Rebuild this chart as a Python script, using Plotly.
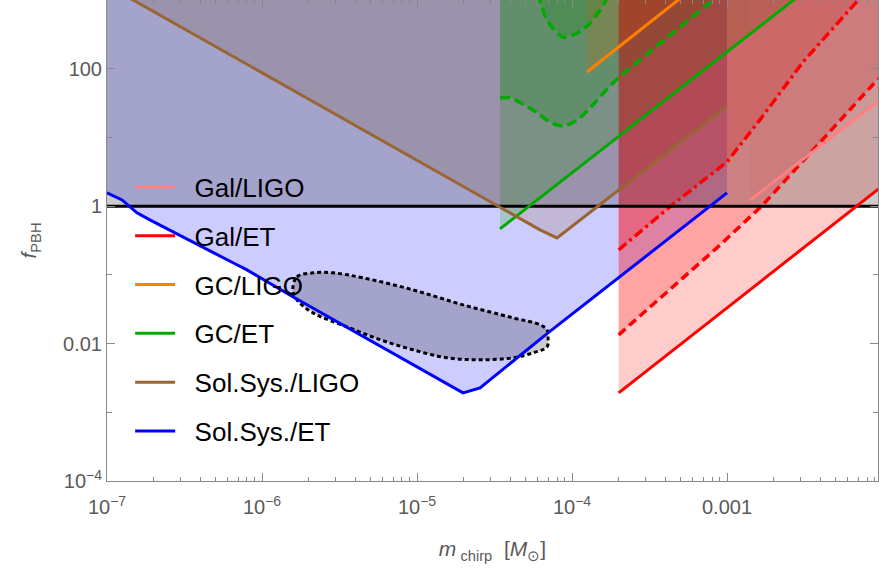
import plotly.graph_objects as go

# ---- bounds on f_PBH versus chirp mass (M_sun) ----
# Solar-system / ET
solet_m = [1.0e-7, 1.25e-7, 1.56e-7, 1.89e-7, 6.5e-7, 8.0e-7, 1.58e-6, 1.98e-5, 2.55e-5, 7.0e-5, 1.0e-3]
solet_f = [1.56, 1.23, 0.80, 0.63, 0.150, 0.118, 0.0479, 0.00192, 0.00227, 0.0143, 1.56]
# Solar-system / LIGO
solligo_m = [1.0e-7, 6.22e-5, 8.0e-5, 1.0e-3]
solligo_f = [1640, 0.452, 0.345, 28.7]
# Globular clusters / ET (solid, dashed, dashed upper)
gcet_m = [3.43e-5, 5.0e-3]
gcet_f = [0.467, 2970]
gcet2_m = [3.43e-5, 3.98e-5, 5.6e-5, 7.2e-5, 8.75e-5, 1.08e-4, 1.36e-4, 1.84e-4, 2.75e-4, 7.43e-4, 1.0e-3]
gcet2_f = [37.6, 37.6, 25.1, 16.8, 14.7, 18.0, 29.7, 62.1, 134, 845, 1470]
gcet3_m = [5.77e-5, 6.22e-5, 6.9e-5, 8.75e-5, 1.08e-4, 1.31e-4, 1.63e-4, 1.71e-4]
gcet3_f = [1175, 935, 512, 290, 331, 462, 935, 1175]
# Globular clusters / LIGO
gcligo_m = [1.25e-4, 6.3e-4]
gcligo_f = [89.7, 1600]
# Galactic / ET (solid, dashed, dot-dashed)
galet_m = [2.0e-4, 1.26e-2]
galet_f = [0.00192, 2.94]
galet2_m = [2.0e-4, 8.6e-4, 1.68e-3, 3.59e-3, 9.29e-3, 1.26e-2]
galet2_f = [0.0134, 0.247, 1.01, 6.58, 68.5, 117]
galet3_m = [2.0e-4, 4.42e-4, 1.0e-3, 1.63e-3, 3.09e-3, 7.21e-3, 1.0e-2]
galet3_f = [0.231, 1.04, 4.41, 18.0, 125, 1070, 2000]
# Galactic / LIGO
galligo_m = [1.41e-3, 1.26e-2]
galligo_f = [1.23, 55.7]
# closed contour
cont_m = [1.58e-6, 1.68e-6, 2.13e-6, 2.87e-6, 4.49e-6, 9.42e-6, 1.98e-5, 4.16e-5, 6.22e-5, 6.9e-5,
          7.0e-5, 6.9e-5, 5.6e-5, 4.16e-5, 2.55e-5, 1.56e-5, 9.42e-6, 5.77e-6, 3.53e-6, 2.13e-6,
          1.68e-6, 1.58e-6]
cont_f = [0.0605, 0.0935, 0.107, 0.107, 0.0904, 0.0605, 0.0366, 0.0237, 0.0188, 0.0158,
          0.0125, 0.00897, 0.00733, 0.00621, 0.00581, 0.00621, 0.00811, 0.0114, 0.0175, 0.028,
          0.0433, 0.0605]

x_ticks = [1e-7, 1e-6, 1e-5, 1e-4, 1e-3]
x_labels = ["10<sup>−7</sup>", "10<sup>−6</sup>", "10<sup>−5</sup>", "10<sup>−4</sup>", "0.001"]
y_ticks = [1e-4, 1e-2, 1, 100]
y_labels = ["10<sup>−4</sup>", "0.01", "1", "100"]

TOP = 1e5

BLUE = "#0000ff"
BROWN = "#996633"
GREEN = "#00aa00"
ORANGE = "#ff8000"
RED = "#ff0000"
PINK = "#ff8080"

fig = go.Figure()


def region_above(m, f, color):
    fig.add_trace(go.Scatter(
        x=list(m) + [m[-1], m[0]], y=list(f) + [TOP, TOP],
        mode="lines", line=dict(width=0), fill="toself", fillcolor=color,
        hoverinfo="skip", showlegend=False))


region_above(solet_m, solet_f, "rgba(0,0,255,0.2)")
region_above(solligo_m, solligo_f, "rgba(153,102,51,0.2)")
fig.add_trace(go.Scatter(x=cont_m, y=cont_f, mode="lines", line=dict(width=0, shape="spline"),
                         fill="toself", fillcolor="rgba(0,0,0,0.2)", hoverinfo="skip",
                         showlegend=False))
region_above(gcet_m, gcet_f, "rgba(0,170,0,0.2)")
region_above(gcet2_m, gcet2_f, "rgba(0,170,0,0.2)")
region_above(gcet3_m, gcet3_f, "rgba(0,170,0,0.2)")
region_above(gcligo_m, gcligo_f, "rgba(255,128,0,0.2)")
region_above(galet_m, galet_f, "rgba(255,0,0,0.2)")
region_above(galet2_m, galet2_f, "rgba(255,0,0,0.2)")
region_above(galet3_m, galet3_f, "rgba(255,0,0,0.2)")
region_above(galligo_m, galligo_f, "rgba(255,128,128,0.2)")
# f_PBH > 1 excluded
fig.add_trace(go.Scatter(x=[1e-8, 1, 1, 1e-8], y=[1, 1, TOP, TOP], mode="lines",
                         line=dict(width=0), fill="toself", fillcolor="rgba(0,0,0,0.2)",
                         hoverinfo="skip", showlegend=False))


def curve(m, f, color, dash="solid", width=3, name=None, shape="linear"):
    fig.add_trace(go.Scatter(
        x=m, y=f, mode="lines", line=dict(color=color, width=width, dash=dash, shape=shape),
        name=name, showlegend=name is not None, legendgroup=name,
        hoverinfo="skip"))


curve(cont_m, cont_f, "black", dash="4px,3px", width=3, shape="spline")
curve(gcet2_m, gcet2_f, GREEN, dash="10px,5px", width=3.5, shape="spline")
curve(gcet3_m, gcet3_f, GREEN, dash="10px,5px", width=3.5, shape="spline")
curve(galet2_m, galet2_f, RED, dash="9px,5px", width=3.5)
curve(galet3_m, galet3_f, RED, dash="10px,4px,3px,4px", width=3.5)

# y = 1 line
fig.add_trace(go.Scatter(x=[1e-8, 1], y=[1, 1], mode="lines", line=dict(color="black", width=3),
                         hoverinfo="skip", showlegend=False))

LEG_PAD = "\u00a0\u00a0"
curve(galligo_m, galligo_f, PINK, name=LEG_PAD + "Gal/LIGO")
curve(galet_m, galet_f, RED, name=LEG_PAD + "Gal/ET")
curve(gcligo_m, gcligo_f, ORANGE, name=LEG_PAD + "GC/LIGO")
curve(gcet_m, gcet_f, GREEN, name=LEG_PAD + "GC/ET")
curve(solligo_m, solligo_f, BROWN, name=LEG_PAD + "Sol.Sys./LIGO")
curve(solet_m, solet_f, BLUE, name=LEG_PAD + "Sol.Sys./ET")

minor_x = [k * 10.0 ** e for e in range(-7, -2) for k in range(2, 10)]
minor_y = [1e-3, 1e-1, 10, 1000]

tick_font = dict(family="Liberation Sans, Arial", size=20, color="#5a5a5a")

fig.update_layout(
    width=879, height=569,
    margin=dict(l=107, r=1, t=0, b=88),
    paper_bgcolor="white", plot_bgcolor="white",
    showlegend=True,
    legend=dict(x=0.03, y=0.66, xanchor="left", yanchor="top", bgcolor="rgba(0,0,0,0)",
                font=dict(family="Liberation Sans, Arial", size=26, color="black"),
                tracegroupgap=12, itemwidth=40, traceorder="grouped"),
    xaxis=dict(type="log", range=[-7, -2.026], tickvals=x_ticks, ticktext=x_labels,
               ticks="inside", ticklen=8, tickcolor="#888", tickwidth=1,
               minor=dict(tickvals=minor_x, ticks="inside", ticklen=4, tickcolor="#888",
                          showgrid=False),
               showline=True, linecolor="#888", linewidth=1, mirror="ticks",
               showgrid=False, zeroline=False, tickfont=tick_font, ticklabelstandoff=8,
               title=dict(text="<i>m</i><sub> chirp</sub>  [<i>M</i><sub>⊙</sub>]",
                          font=dict(family="Liberation Sans, Arial", size=21, color="#5a5a5a"),
                          standoff=24)),
    yaxis=dict(type="log", range=[-4, 3], tickvals=y_ticks, ticktext=y_labels,
               ticks="inside", ticklen=8, tickcolor="#888", tickwidth=1,
               minor=dict(tickvals=minor_y, ticks="inside", ticklen=5, tickcolor="#888",
                          showgrid=False),
               showline=True, linecolor="#888", linewidth=1, mirror="ticks",
               showgrid=False, zeroline=False, tickfont=tick_font,
               title=dict(text="<i>f</i><sub>PBH</sub>",
                          font=dict(family="Liberation Sans, Arial", size=21, color="#5a5a5a"),
                          standoff=20)),
)

fig.write_html("out.html")
